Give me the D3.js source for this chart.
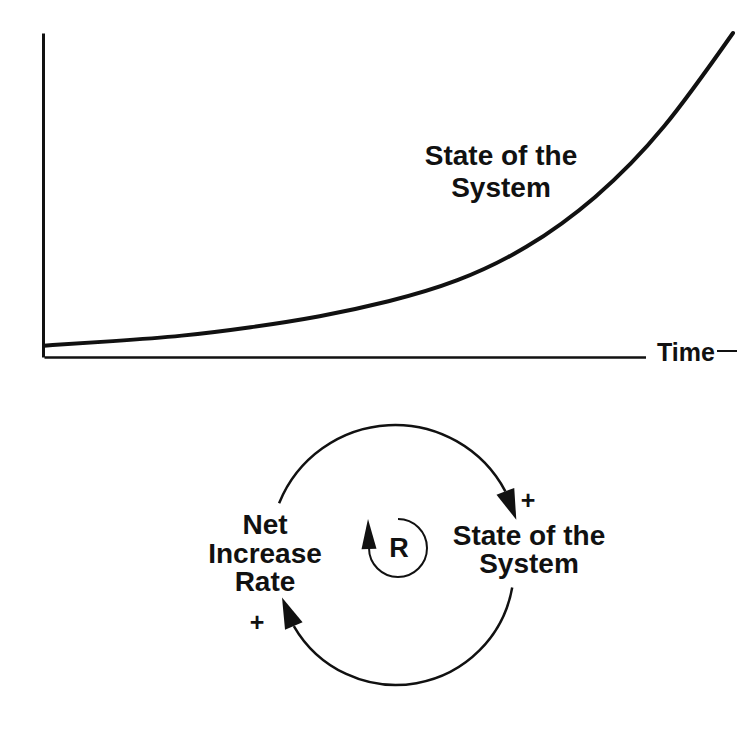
<!DOCTYPE html>
<meta charset="utf-8" />
<script src="https://d3js.org/d3.v7.min.js"></script>
<body style="margin:0;background:#fff">
  <div id="my_dataviz"></div>

  <script>
    // values
    const timeSteps = [0, 1, 2, 3, 4, 5, 6, 7, 8, 9, 10];
    const stateValues = [3.5, 4.9, 6.6, 9.2, 12.6, 17.2, 23.7, 34.0, 49.4, 71.2, 100];
    const curveLabel = ["State of the", "System"];
    const axisLabel = "Time";
    const rateLabel = ["Net", "Increase", "Rate"];
    const stateLabel = ["State of the", "System"];
    const linkSigns = ["+", "+"];
    const loopType = "R";

    const data = timeSteps.map((t, i) => ({ t: t, v: stateValues[i] }));

    var width = 737,
      height = 740;
    var font = "'Liberation Sans', Arial, Helvetica, sans-serif";
    var ink = "#111";

    var svg = d3
      .select("#my_dataviz")
      .append("svg")
      .attr("width", width)
      .attr("height", height)
      .style("background", "#fff");

    // scales
    var x = d3.scaleLinear().domain([0, 10]).range([44, 733]);
    var y = d3.scaleLinear().domain([0, 100]).range([357, 33]);

    // x axis (line only), gap left for the label
    var xAx = svg
      .append("g")
      .attr("transform", "translate(0," + y(0) + ")")
      .call(d3.axisBottom(x).tickValues([]).tickSizeOuter(0));
    xAx.select(".domain").attr("stroke", ink).attr("stroke-width", 2.5);

    svg
      .append("rect")
      .attr("x", 646)
      .attr("y", y(0) - 6)
      .attr("width", 95)
      .attr("height", 12)
      .attr("fill", "#fff");
    svg
      .append("line")
      .attr("x1", 717)
      .attr("x2", 737)
      .attr("y1", y(0) - 6)
      .attr("y2", y(0) - 6)
      .attr("stroke", ink)
      .attr("stroke-width", 2);

    // y axis (line only)
    var yAx = svg
      .append("g")
      .attr("transform", "translate(43,0)")
      .call(d3.axisLeft(y).tickValues([]).tickSizeOuter(0));
    yAx.select(".domain").attr("stroke", ink).attr("stroke-width", 3);

    svg
      .append("text")
      .attr("x", 686)
      .attr("y", 361)
      .attr("text-anchor", "middle")
      .style("font-family", font)
      .style("font-weight", "bold")
      .style("font-size", "25px")
      .attr("fill", ink)
      .text(axisLabel);

    // growth curve
    var line = d3
      .line()
      .x(function (d) {
        return x(d.t);
      })
      .y(function (d) {
        return y(d.v);
      })
      .curve(d3.curveNatural);

    svg
      .append("path")
      .datum(data)
      .attr("d", line)
      .attr("fill", "none")
      .attr("stroke", ink)
      .attr("stroke-width", 4)
      .attr("stroke-linecap", "round");

    svg
      .selectAll("text.curveLbl")
      .data(curveLabel)
      .enter()
      .append("text")
      .attr("class", "curveLbl")
      .attr("x", 501)
      .attr("y", function (d, i) {
        return 165 + i * 32;
      })
      .attr("text-anchor", "middle")
      .style("font-family", font)
      .style("font-weight", "bold")
      .style("font-size", "28px")
      .attr("fill", ink)
      .text(function (d) {
        return d;
      });

    // causal loop diagram
    var rad = Math.PI / 180;

    function arrowHead(base, tip, w) {
      var dx = tip[0] - base[0],
        dy = tip[1] - base[1];
      var len = Math.sqrt(dx * dx + dy * dy);
      var nx = (-dy / len) * (w / 2),
        ny = (dx / len) * (w / 2);
      svg
        .append("path")
        .attr(
          "d",
          "M" + tip[0] + "," + tip[1] +
            "L" + (base[0] + nx) + "," + (base[1] + ny) +
            "L" + (base[0] - nx) + "," + (base[1] - ny) + "Z"
        )
        .attr("fill", ink);
    }

    function loopLink(cx, cy, r, a0, aBase, aTip, w) {
      var p = d3.path();
      p.arc(cx, cy, r, a0 * rad, aBase * rad, false);
      svg
        .append("path")
        .attr("d", p.toString())
        .attr("fill", "none")
        .attr("stroke", ink)
        .attr("stroke-width", 2.5);
      var base = [cx + r * Math.cos(aBase * rad), cy + r * Math.sin(aBase * rad)];
      var tip = [cx + r * Math.cos(aTip * rad), cy + r * Math.sin(aTip * rad)];
      arrowHead(base, tip, w);
    }

    // rate -> state (top), state -> rate (bottom)
    loopLink(395, 550, 125, -158, -28, -14, 19);
    loopLink(396, 567, 118, 10, 150, 165, 19);

    // small reinforcing loop marker
    var p = d3.path();
    p.arc(398, 548, 29, -90 * rad, 180 * rad, false);
    svg
      .append("path")
      .attr("d", p.toString())
      .attr("fill", "none")
      .attr("stroke", ink)
      .attr("stroke-width", 2);
    arrowHead([369, 549], [368, 519], 15);

    svg
      .append("text")
      .attr("x", 399)
      .attr("y", 557)
      .attr("text-anchor", "middle")
      .style("font-family", font)
      .style("font-weight", "bold")
      .style("font-size", "27px")
      .attr("fill", ink)
      .text(loopType);

    function nodeLabel(lines, cx, y0, step) {
      svg
        .append("g")
        .selectAll("text")
        .data(lines)
        .enter()
        .append("text")
        .attr("x", cx)
        .attr("y", function (d, i) {
          return y0 + i * step;
        })
        .attr("text-anchor", "middle")
        .style("font-family", font)
        .style("font-weight", "bold")
        .style("font-size", "28px")
        .attr("fill", ink)
        .text(function (d) {
          return d;
        });
    }
    nodeLabel(rateLabel, 265, 534, 28.5);
    nodeLabel(stateLabel, 529, 545, 28);

    // link polarity
    var signPos = [
      [528, 509],
      [257, 631]
    ];
    svg
      .selectAll("text.sign")
      .data(linkSigns)
      .enter()
      .append("text")
      .attr("class", "sign")
      .attr("x", function (d, i) {
        return signPos[i][0];
      })
      .attr("y", function (d, i) {
        return signPos[i][1];
      })
      .attr("text-anchor", "middle")
      .style("font-family", font)
      .style("font-weight", "bold")
      .style("font-size", "25px")
      .attr("fill", ink)
      .text(function (d) {
        return d;
      });
  </script>
</body>
